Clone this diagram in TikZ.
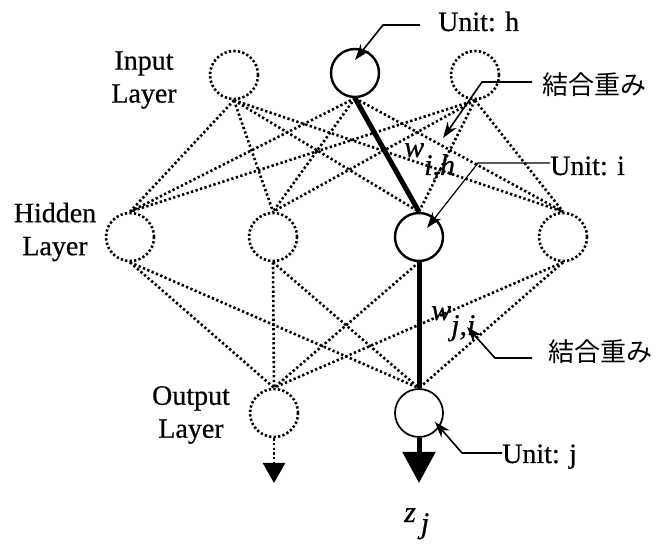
\documentclass[tikz,border=0pt]{standalone}
\usepackage{fontspec}
\setmainfont{Liberation Serif}[FakeBold=0.6]
\newfontfamily\jpfont{Noto Sans CJK JP}
\usetikzlibrary{arrows.meta}

\begin{document}
\begin{tikzpicture}[x=1pt,y=-1pt,
  neuron/.style={circle, minimum size=48pt, inner sep=0pt, draw, line width=2.6pt,
    dash pattern=on 2.3pt off 2.2pt},
  active/.style={circle, minimum size=48pt, inner sep=0pt, draw, line width=2.4pt},
  link/.style={line width=2.6pt, dash pattern=on 2.3pt off 2.4pt},
  strong/.style={line width=5pt},
  leader/.style={line width=1.6pt, -{Stealth[length=16pt,width=11pt]}},
  lbl/.style={font=\fontsize{28}{33}\selectfont, inner sep=0pt},
  jp/.style={font=\jpfont\fontsize{26}{30}\selectfont, inner sep=0pt},
  sym/.style={font=\fontsize{30}{34}\selectfont\itshape, inner sep=0pt},
]
\useasboundingbox (0,0) rectangle (662,545);

% units
\node[neuron] (i1) at (234,75) {};
\node[active] (i2) at (355,73) {};
\node[neuron] (i3) at (475,75) {};

\node[neuron] (h1) at (130,237) {};
\node[neuron] (h2) at (273,237) {};
\node[active] (h3) at (419,237) {};
\node[neuron] (h4) at (563,237) {};

\node[neuron] (o1) at (274,413) {};
\node[active, line width=1.7pt] (o2) at (419,413) {};

% dotted connections, input -> hidden
\foreach \a in {i1,i2,i3}
  \foreach \b in {h1,h2,h3,h4}
    \draw[link] (\a.south) -- (\b.north);
% dotted connections, hidden -> output
\foreach \a in {h1,h2,h3,h4}
  \foreach \b in {o1,o2}
    \draw[link] (\a.south) -- (\b.north);

% highlighted path
\draw[strong] (i2.south) -- (h3.north);
\draw[strong] (h3.south) -- (o2.north);

% outputs
\coordinate (o1out) at (274,483);
\coordinate (o2out) at (419,483);
\draw[link, -{Triangle[length=20pt,width=22pt]}] (o1.south) -- (o1out);
\draw[strong, -{Triangle[length=31pt,width=32pt]}] (o2.south) -- (o2out);

% layer labels
\node[lbl, align=center] (inlbl) at (144,80) {Input\\Layer};
\node[lbl, align=center] (hidlbl) at (55,232) {Hidden\\Layer};
\node[lbl, align=center] (outlbl) at (191,415) {Output\\Layer};

% weight symbols
\node[sym, anchor=base west] (wih) at (404,157) {w\raisebox{-18pt}{i,h}};
\node[sym, anchor=base west] (wji) at (431,320) {w\raisebox{-15pt}{j,i}};
\node[sym, anchor=base west] (zj) at (404,522) {z\raisebox{-11pt}{\hspace{5pt}j}};

% annotations
\node[lbl, anchor=base west] (uh) at (438,31) {Unit: h};
\node[lbl, anchor=base west] (ui) at (550,175) {Unit: i};
\node[lbl, anchor=base west] (uj) at (502,463) {Unit: j};
\node[jp, anchor=west] (wt1) at (542,85) {結合重み};
\node[jp, anchor=west] (wt2) at (548,352) {結合重み};

\coordinate (uhs) at (420,25);
\coordinate (uhb) at (383,25);
\coordinate (uht) at (355,60);
\draw[leader] (uhs) -- (uhb) -- (uht);

\coordinate (w1s) at (532,82);
\coordinate (w1b) at (482,82);
\coordinate (w1t) at (443,138);
\draw[leader] (w1s) -- (w1b) -- (w1t);

\coordinate (uib) at (478,163);
\coordinate (uit) at (427,228);
\draw[leader, line width=1.2pt] (ui.west |- uib) -- (uib) -- (uit);

\coordinate (w2s) at (532,358);
\coordinate (w2b) at (495,358);
\coordinate (w2t) at (467,327);
\draw[leader] (w2s) -- (w2b) -- (w2t);

\coordinate (ujb) at (462,453);
\coordinate (ujt) at (435,422);
\draw[leader] (uj.west |- ujb) -- (ujb) -- (ujt);
\end{tikzpicture}
\end{document}
